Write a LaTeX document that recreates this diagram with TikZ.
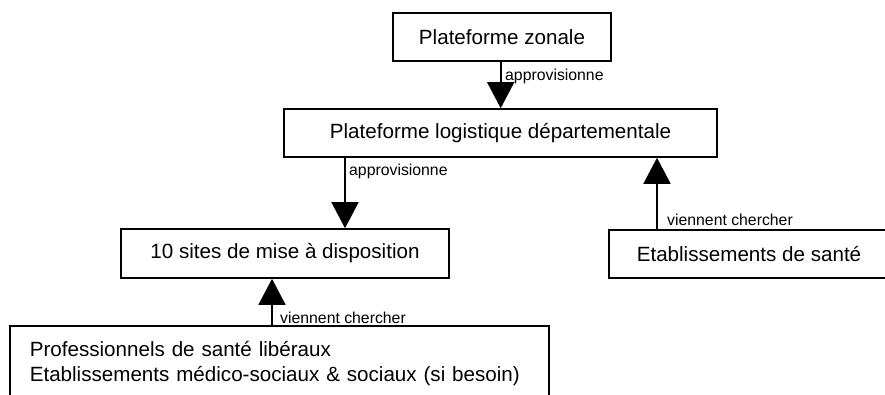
\documentclass[tikz,border=0pt]{standalone}
\usepackage{fontspec}
\setmainfont{Liberation Sans}
\usetikzlibrary{arrows.meta}
\begin{document}
\begin{tikzpicture}[x=1pt,y=1pt,
  box/.style={draw=black, line width=1.6pt, fill=white, inner sep=0pt,
    font=\fontsize{20.6}{25}\selectfont},
  lbl/.style={font=\fontsize{15.8}{18}\selectfont, inner sep=0pt, anchor=west},
  flow/.style={draw=black, line width=1.6pt,
    -{Triangle[width=27pt,length=26pt]}}]
\useasboundingbox (0,0) rectangle (885,-394);
\clip (0,0) rectangle (885,-394);
\fill[white] (0,0) rectangle (885,-394);
% boxes
\node[box, minimum width=218, minimum height=48] (z) at (502,-37) {Plateforme zonale};
\node[box, minimum width=433, minimum height=48] (d) at (500.5,-133) {Plateforme logistique départementale};
\node[box, minimum width=328, minimum height=49] (s) at (285,-253.5) {10 sites de mise à disposition};
\node[box, minimum width=280, minimum height=48] (e) at (749,-254) {Etablissements de santé};
\node[box, anchor=north west, minimum width=539, minimum height=76, align=left,
  text width=499, inner xsep=20] (p) at (9,-325)
  {Professionnels de santé libéraux\\Etablissements médico-sociaux \& sociaux (si besoin)};
% connector x positions
\coordinate (a2) at (345,0);
\coordinate (a3) at (272,0);
\coordinate (a4) at (657,0);
% connectors
\draw[flow] (z.south -| 500.7,0) -- (d.north -| 500.7,0);
\draw[flow] (d.south -| a2) -- (s.north -| a2);
\draw[flow] (p.north -| a3) -- (s.south -| a3);
\draw[flow] (e.north -| a4) -- (d.south -| a4);
% labels
\node[lbl] (l1) at (505,-76) {approvisionne};
\node[lbl] (l2) at (349,-171) {approvisionne};
\node[lbl] (l3) at (280,-318) {viennent chercher};
\node[lbl] (l4) at (667,-220) {viennent chercher};
\end{tikzpicture}
\end{document}
